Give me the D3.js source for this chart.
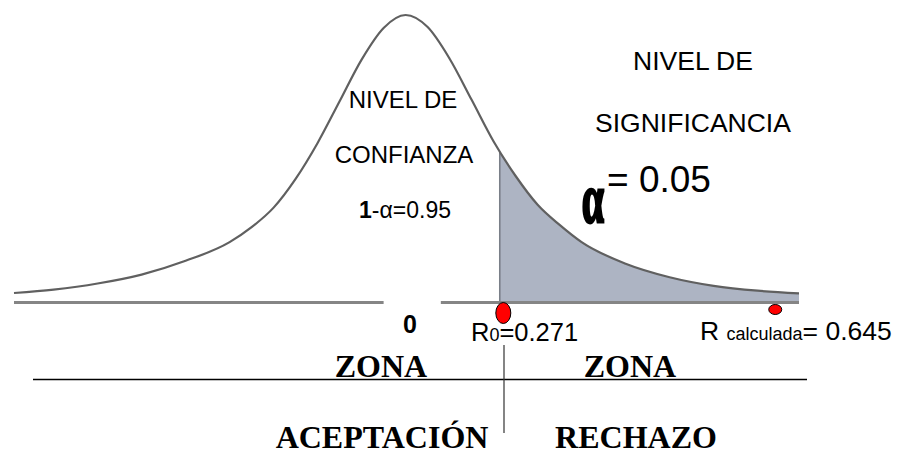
<!DOCTYPE html>
<meta charset="utf-8">
<head>
  <style>
    body { margin: 0; background: #fff; }
    .sans { font-family: "Liberation Sans", Arial, sans-serif; fill: #000; }
    .serif { font-family: "Liberation Serif", "Times New Roman", serif; font-weight: bold; fill: #000; }
  </style>
  <script src="https://d3js.org/d3.v7.min.js"></script>
</head>
<body>
  <div id="viz"></div>
</body>
<script>
// curve: position (in sigma-ish units) and relative height
var curveZ = [-4.45, -4.0, -3.5, -3.0, -2.5, -2.0, -1.75, -1.5, -1.25, -1.0, -0.75, -0.5, -0.25, 0,
              0.25, 0.5, 0.75, 1.0, 1.25, 1.5, 1.75, 2.0, 2.5, 3.0, 3.5, 4.0, 4.47];
var curveH = [0.033, 0.045, 0.066, 0.097, 0.145, 0.21, 0.262, 0.33, 0.43, 0.555, 0.70, 0.845, 0.955, 1.0,
              0.958, 0.848, 0.705, 0.56, 0.44, 0.34, 0.27, 0.21, 0.135, 0.088, 0.058, 0.041, 0.032];

// axis pieces (there is a gap around the centre)
var axisSegments = [[-4.45, -0.25], [0.4, 4.47]];

// critical value and calculated value, placed on the same z scale
var critZ = 1.07;
var markerZ = [1.11, 4.2];
var markerR = [[7.5, 10.5], [6.5, 5]];

var alpha = "0.05";
var confidence = "0.95";
var r0 = "0.271";
var rCalc = "0.645";

var W = 904, H = 455;

var svg = d3.select("#viz")
  .append("svg")
    .attr("width", W)
    .attr("height", H);

var x = d3.scaleLinear().domain([-4.45, 4.47]).range([14, 799]);
var y = d3.scaleLinear().domain([0, 1]).range([302.5, 15]);

var pts = curveZ.map(function(z, i) { return [z, curveH[i]]; });

var area = d3.area()
  .x(function(d) { return x(d[0]); })
  .y0(y(0))
  .y1(function(d) { return y(d[1]); })
  .curve(d3.curveMonotoneX);

var line = d3.line()
  .x(function(d) { return x(d[0]); })
  .y(function(d) { return y(d[1]); })
  .curve(d3.curveMonotoneX);

var defs = svg.append("defs");
defs.append("clipPath").attr("id", "tail")
  .append("rect")
    .attr("x", x(critZ))
    .attr("y", 0)
    .attr("width", x(4.47) - x(critZ))
    .attr("height", y(0));
defs.append("clipPath").attr("id", "under")
  .append("path")
    .attr("d", area(pts));

/* shaded rejection tail */
svg.append("path")
  .attr("d", area(pts))
  .attr("fill", "#adb4c3")
  .attr("clip-path", "url(#tail)");

svg.append("line")
  .attr("x1", x(critZ)).attr("x2", x(critZ))
  .attr("y1", y(0)).attr("y2", 0)
  .attr("stroke", "#7a7f88")
  .attr("stroke-width", 1.6)
  .attr("clip-path", "url(#under)");

/* baseline */
svg.selectAll(".axis-seg")
  .data(axisSegments)
  .enter()
  .append("line")
    .attr("x1", function(d) { return x(d[0]); })
    .attr("x2", function(d) { return x(d[1]); })
    .attr("y1", y(0)).attr("y2", y(0))
    .attr("stroke", "#858585")
    .attr("stroke-width", 2.8);

/* the curve */
svg.append("path")
  .attr("d", line(pts))
  .attr("fill", "none")
  .attr("stroke", "#606060")
  .attr("stroke-width", 2.2);

/* red markers */
svg.selectAll(".marker")
  .data(markerZ)
  .enter()
  .append("ellipse")
    .attr("cx", function(d) { return x(d); })
    .attr("cy", function(d, i) { return y(0) + (i == 0 ? 10.5 : 7); })
    .attr("rx", function(d, i) { return markerR[i][0]; })
    .attr("ry", function(d, i) { return markerR[i][1]; })
    .attr("fill", "#f00")
    .attr("stroke", "#000")
    .attr("stroke-width", 1);

/* texts inside the curve */
function txt(cls, tx, ty, size, anchor, s) {
  return svg.append("text")
    .attr("class", cls)
    .attr("x", tx).attr("y", ty)
    .attr("font-size", size)
    .attr("text-anchor", anchor)
    .text(s);
}

txt("sans", 403, 108, 24, "middle", "NIVEL DE");
txt("sans", 404, 163, 24, "middle", "CONFIANZA");
var c = txt("sans", 405, 218, 23, "middle", "");
c.append("tspan").attr("font-weight", "bold").text("1");
c.append("tspan").text("-α=" + confidence);

txt("sans", 693, 70, 26.5, "middle", "NIVEL DE");
txt("sans", 693, 132, 26.5, "middle", "SIGNIFICANCIA");

svg.append("text")
  .attr("class", "serif")
  .attr("transform", "translate(593,222) scale(1,1.75)")
  .attr("font-size", 40)
  .attr("text-anchor", "middle")
  .attr("stroke", "#000")
  .attr("stroke-width", 1.6)
  .text("α");
txt("sans", 607, 192, 37, "start", "= " + alpha);

/* labels under the axis */
txt("sans", 410, 333, 25, "middle", "0").attr("font-weight", "bold");

var r = txt("sans", 471, 341, 25.5, "start", "R");
r.append("tspan").attr("font-size", 18).text("0");
r.append("tspan").text("=" + r0);

var rc = txt("sans", 700, 340, 26.5, "start", "R ");
rc.append("tspan").attr("font-size", 18).text("calculada");
rc.append("tspan").text("= " + rCalc);

/* zone legend */
svg.append("line")
  .attr("x1", 33).attr("x2", 807)
  .attr("y1", 379.5).attr("y2", 379.5)
  .attr("stroke", "#000").attr("stroke-width", 1.5);
svg.append("line")
  .attr("x1", 504).attr("x2", 504)
  .attr("y1", 345).attr("y2", 433)
  .attr("stroke", "#333").attr("stroke-width", 1.2);

txt("serif", 381, 377, 32, "middle", "ZONA");
txt("serif", 630, 377, 32, "middle", "ZONA");
txt("serif", 382, 448, 32, "middle", "ACEPTACIÓN");
txt("serif", 636, 448, 32, "middle", "RECHAZO");
</script>
